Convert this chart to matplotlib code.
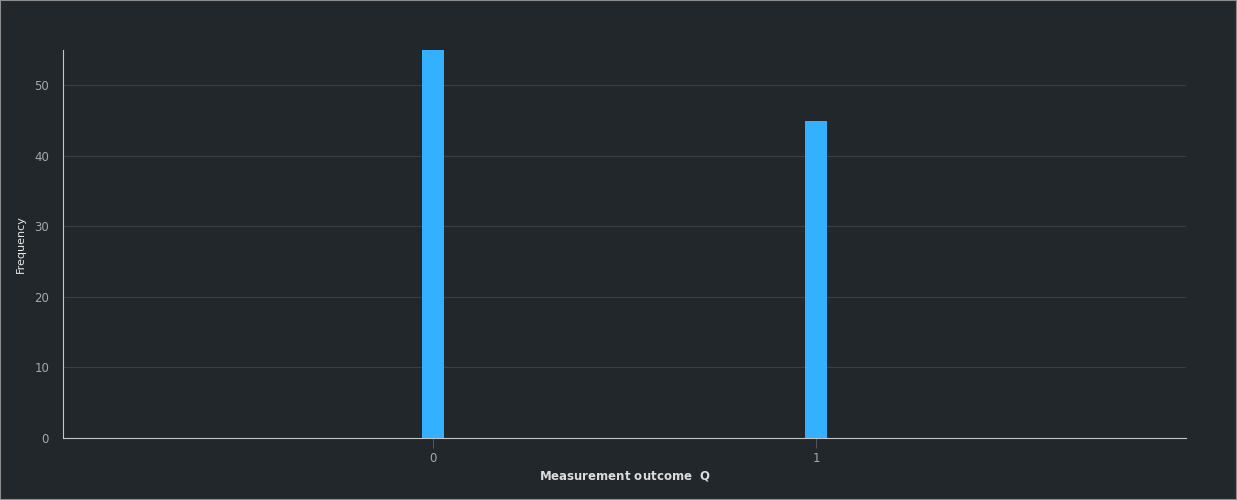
#!/usr/bin/env python3
"""Measurement outcome histogram (dark theme)."""
import matplotlib
matplotlib.use("Agg")
import matplotlib.pyplot as plt

outcomes = ["0", "1"]
counts = [55, 45]

BG = "#22272b"
BAR = "#33b1ff"
GRID = "#3a3f44"
SPINE = "#c6c6c6"
TICK = "#a8a8a8"

fig = plt.figure(figsize=(12.37, 5), dpi=100, facecolor=BG)
ax = fig.add_axes([63 / 1237, 62 / 500, (1186 - 63) / 1237, (438 - 50) / 500])
ax.set_facecolor(BG)

x = list(range(len(outcomes)))
ax.bar(x, counts, width=0.06, color=BAR, zorder=3)

ax.set_xlim(-0.966, 1.966)
ax.set_ylim(0, 55)
ax.set_xticks(x)
ax.set_xticklabels(outcomes)
ax.set_yticks([0, 10, 20, 30, 40, 50])

ax.grid(axis="y", color=GRID, linewidth=0.8, zorder=0)
for side in ["top", "right"]:
    ax.spines[side].set_visible(False)
for side in ["left", "bottom"]:
    ax.spines[side].set_color(SPINE)
    ax.spines[side].set_linewidth(0.8)

ax.tick_params(axis="x", colors=TICK, labelsize=8.5, length=7, width=0.6, pad=3)
ax.tick_params(axis="x", color="#5a5f64")
ax.tick_params(axis="y", colors=TICK, labelsize=8.5, length=0, pad=10)

ax.set_ylabel("Frequency", color="#e8e8e8", fontsize=8, labelpad=6)
ax.set_xlabel("Measurement outcome  $\\mathbf{Q}$", color="#dcdcdc", fontsize=8.5,
              fontweight="bold", labelpad=3)

# thin frame round the figure
fig.patches.append(plt.Rectangle((0, 0), 1, 1, transform=fig.transFigure,
                                 fill=False, edgecolor="#8d8d8d", linewidth=1.5))

plt.savefig("out.png", dpi=100, facecolor=BG)
